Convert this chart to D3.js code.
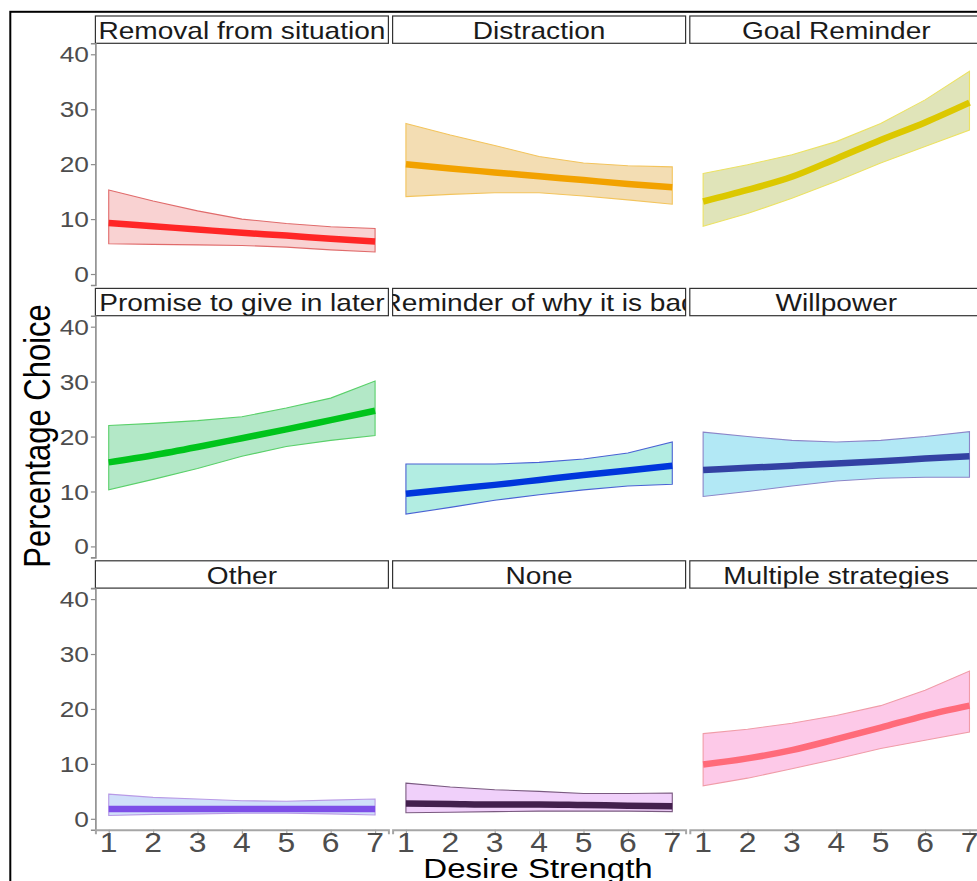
<!DOCTYPE html>
<html>
<head>
<meta charset="utf-8">
<script src="https://cdn.jsdelivr.net/npm/d3@7"></script>
<style>
  html, body { margin: 0; padding: 0; background: #fff; }
  svg { display: block; }
  text { font-family: "Liberation Sans", Arial, sans-serif; }
</style>
</head>
<body>
<svg id="chart" width="977" height="881"></svg>
<script>
// Predicted percentage choice of each strategy by desire strength (fit with 95% band)
const strategies = [
  "Removal from situation", "Distraction", "Goal Reminder",
  "Promise to give in later", "Reminder of why it is bad", "Willpower",
  "Other", "None", "Multiple strategies"
];
const desireLevels = [1, 2, 3, 4, 5, 6, 7];
const yTicks = [0, 10, 20, 30, 40];
const xTicks = [1, 2, 3, 4, 5, 6, 7];

const removalFit   = [9.3, 8.7, 8.1, 7.5, 7.0, 6.4, 5.9];
const removalLow   = [5.5, 5.4, 5.3, 5.2, 4.9, 4.4, 4.0];
const removalHigh  = [15.3, 13.3, 11.5, 10.0, 9.2, 8.6, 8.3];

const distractionFit  = [20.0, 19.2, 18.5, 17.8, 17.1, 16.4, 15.8];
const distractionLow  = [14.1, 14.5, 14.8, 14.8, 14.2, 13.5, 12.7];
const distractionHigh = [27.4, 25.3, 23.4, 21.4, 20.2, 19.7, 19.5];

const goalFit  = [13.2, 15.3, 17.7, 21.0, 24.4, 27.6, 31.2];
const goalLow  = [8.7, 11.0, 13.8, 16.9, 20.2, 23.2, 26.2];
const goalHigh = [18.3, 19.9, 21.7, 24.1, 27.4, 31.7, 36.9];

const promiseFit  = [15.3, 16.6, 18.1, 19.7, 21.3, 23.0, 24.7];
const promiseLow  = [10.3, 12.2, 14.2, 16.4, 18.2, 19.3, 20.2];
const promiseHigh = [22.0, 22.4, 22.9, 23.6, 25.2, 27.0, 30.1];

const reminderFit  = [9.6, 10.4, 11.2, 12.1, 13.0, 13.8, 14.7];
const reminderLow  = [5.9, 7.1, 8.4, 9.4, 10.3, 11.0, 11.3];
const reminderHigh = [15.0, 15.0, 15.0, 15.3, 15.9, 17.0, 19.0];

const willpowerFit  = [13.9, 14.3, 14.7, 15.1, 15.5, 16.0, 16.4];
const willpowerLow  = [9.1, 10.0, 11.0, 11.9, 12.4, 12.6, 12.6];
const willpowerHigh = [20.8, 20.0, 19.3, 19.0, 19.3, 20.0, 20.9];

const otherFit  = [1.8, 1.8, 1.8, 1.8, 1.8, 1.8, 1.8];
const otherLow  = [0.6, 0.8, 0.9, 1.0, 1.0, 0.9, 0.7];
const otherHigh = [4.5, 3.9, 3.6, 3.3, 3.2, 3.4, 3.6];

const noneFit  = [2.8, 2.7, 2.6, 2.6, 2.5, 2.4, 2.3];
const noneLow  = [1.1, 1.2, 1.3, 1.4, 1.4, 1.4, 1.3];
const noneHigh = [6.5, 5.8, 5.3, 5.0, 4.6, 4.6, 4.7];

const multipleFit  = [9.9, 11.0, 12.5, 14.5, 16.6, 18.8, 20.6];
const multipleLow  = [6.0, 7.4, 9.1, 10.9, 12.8, 14.3, 15.8];
const multipleHigh = [15.5, 16.3, 17.4, 18.8, 20.6, 23.4, 26.9];

const fits  = [removalFit, distractionFit, goalFit, promiseFit, reminderFit, willpowerFit, otherFit, noneFit, multipleFit];
const lows  = [removalLow, distractionLow, goalLow, promiseLow, reminderLow, willpowerLow, otherLow, noneLow, multipleLow];
const highs = [removalHigh, distractionHigh, goalHigh, promiseHigh, reminderHigh, willpowerHigh, otherHigh, noneHigh, multipleHigh];

// Per-panel styling
const lineColors = ["#ff2626", "#f2a200", "#dcc800", "#00c41c", "#0036dc", "#3341a3", "#7d4ee8", "#43204e", "#ff6b7a"];
const bandColors = ["#f9d2d2", "#f3ddb3", "#e0e4b9", "#b3e8c7", "#b2ede2", "#b2e8f5", "#d0dffa", "#f0d0fa", "#fdc9e8"];
const edgeColors = ["#e06b6b", "#f3c45c", "#ece263", "#5ad06a", "#4a62d4", "#8b85c8", "#b89ae6", "#7a5a80", "#f09ca8"];

// Layout
const STRETCH = 1.18;             // horizontal text stretch
const panelLeft0 = 95.4, panelW = 293, colPitch = 297.2;
const stripTop0 = 16, rowPitch = 272.4, stripH = 27.3, panelH = 241.7;

const svg = d3.select("#chart");
const defs = svg.append("defs");

// Outer frame
svg.append("rect")
  .attr("x", 10.3).attr("y", 11.8)
  .attr("width", 1000).attr("height", 1000)
  .attr("fill", "none").attr("stroke", "#000").attr("stroke-width", 2);

function stretchedText(g, x, y, str) {
  return g.append("text")
    .attr("transform", `translate(${x},${y}) scale(${STRETCH},1)`)
    .text(str);
}

strategies.forEach((name, i) => {
  const col = i % 3, row = Math.floor(i / 3);
  const left = panelLeft0 + col * colPitch;
  const stripTop = stripTop0 + row * rowPitch;
  const top = stripTop + stripH;
  const bottom = top + panelH;

  const x = d3.scaleLinear().domain([0.7, 7.3]).range([left, left + panelW]);
  const y = d3.scaleLinear().domain([-2, 42]).range([bottom, top]);

  const g = svg.append("g");

  const pts = desireLevels.map((d, k) => ({ d, fit: fits[i][k], lo: lows[i][k], hi: highs[i][k] }));

  // Confidence band
  g.append("path")
    .datum(pts)
    .attr("d", d3.area().x(p => x(p.d)).y0(p => y(p.lo)).y1(p => y(p.hi)))
    .attr("fill", bandColors[i])
    .attr("stroke", edgeColors[i])
    .attr("stroke-width", 1.1);

  // Fitted line
  g.append("path")
    .datum(pts)
    .attr("d", d3.line().x(p => x(p.d)).y(p => y(p.fit)).curve(d3.curveMonotoneX))
    .attr("fill", "none")
    .attr("stroke", lineColors[i])
    .attr("stroke-width", 6.5);

  // Strip label
  const clipId = "strip-clip-" + i;
  defs.append("clipPath").attr("id", clipId)
    .append("rect").attr("x", left).attr("y", stripTop).attr("width", panelW).attr("height", stripH);
  g.append("rect")
    .attr("x", left).attr("y", stripTop).attr("width", panelW).attr("height", stripH)
    .attr("fill", "#fff").attr("stroke", "#333").attr("stroke-width", 1.2);
  const sg = g.append("g").attr("clip-path", `url(#${clipId})`);
  stretchedText(sg, left + panelW / 2, stripTop + stripH - 4.3, name)
    .attr("text-anchor", "middle")
    .attr("font-size", 23.8)
    .attr("fill", "#1a1a1a");

  // Left axis on first column
  if (col === 0) {
    const ax = g.append("g").attr("transform", `translate(${left},0)`)
      .call(d3.axisLeft(y).tickValues(yTicks).tickSize(4.5).tickPadding(2).tickFormat(d3.format("d")));
    ax.select(".domain").attr("stroke", "#8c8c8c").attr("stroke-width", 1.6);
    ax.selectAll(".tick line").attr("stroke", "#8c8c8c").attr("stroke-width", 1.2);
    ax.selectAll(".tick text").remove();
    yTicks.forEach(t => {
      stretchedText(g, left - 6.5, y(t), String(t))
        .attr("text-anchor", "end")
        .attr("dy", "0.36em")
        .attr("font-size", 22.3)
        .attr("fill", "#4d4d4d");
    });
  }

  // Bottom axis on last row
  if (row === 2) {
    const ax = g.append("g").attr("transform", `translate(0,${bottom})`)
      .call(d3.axisBottom(x).tickValues(xTicks).tickSize(4.5).tickFormat(d3.format("d")));
    ax.select(".domain").attr("stroke", "#a6a6a6").attr("stroke-width", 2);
    ax.selectAll(".tick line").attr("stroke", "#a6a6a6").attr("stroke-width", 1.2);
    ax.selectAll(".tick text").remove();
    xTicks.forEach(t => {
      stretchedText(g, x(t), bottom + 22.5, String(t))
        .attr("text-anchor", "middle")
        .attr("font-size", 27)
        .attr("fill", "#4d4d4d");
    });
  }
});

// Axis titles
svg.append("text")
  .attr("transform", `translate(50,436) rotate(-90) scale(1,${STRETCH})`)
  .attr("text-anchor", "middle")
  .attr("font-size", 31)
  .attr("fill", "#000")
  .text("Percentage Choice");

stretchedText(svg, 538, 877.5, "Desire Strength")
  .attr("text-anchor", "middle")
  .attr("font-size", 28)
  .attr("fill", "#000");
</script>
</body>
</html>
